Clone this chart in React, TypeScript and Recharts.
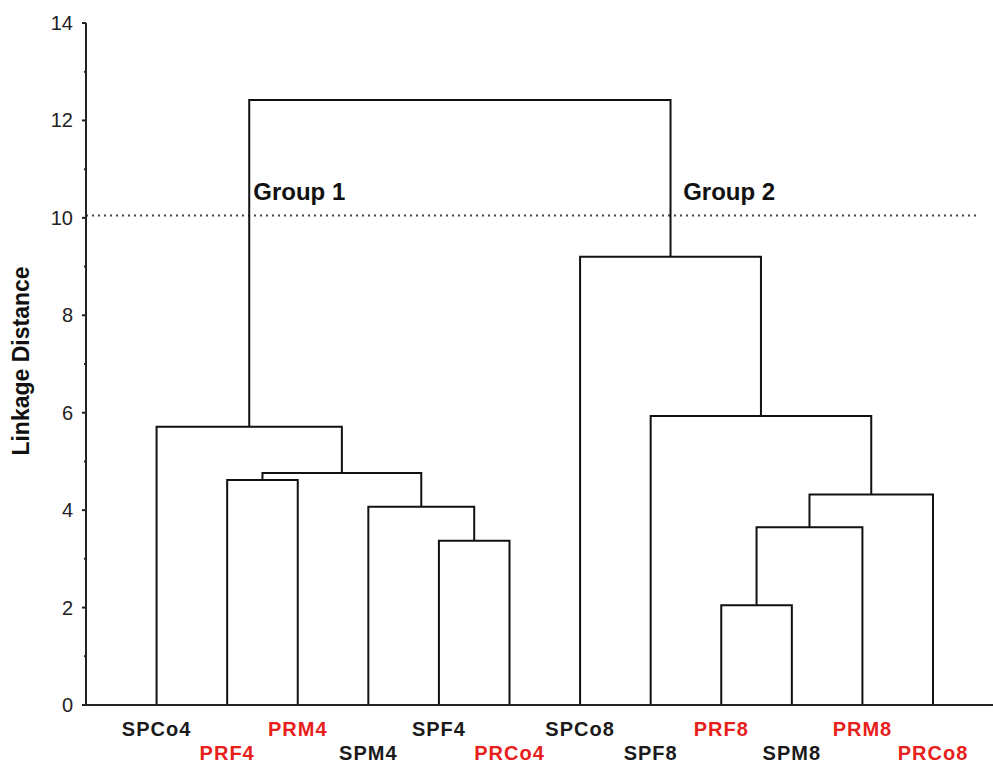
import React from 'react';
import { ComposedChart, Line, XAxis, YAxis, ReferenceLine, ReferenceDot } from 'recharts';

// Leaves of the dendrogram (left to right)
const leafLabels = ['SPCo4', 'PRF4', 'PRM4', 'SPM4', 'SPF4', 'PRCo4', 'SPCo8', 'SPF8', 'PRF8', 'SPM8', 'PRM8', 'PRCo8'];
// Merge steps: node ids 0..11 are leaves, merge k creates node 12+k
const mergeLeft = [1, 4, 3, 12, 0, 8, 17, 18, 7, 6, 16];
const mergeRight = [2, 5, 13, 14, 15, 9, 10, 11, 19, 20, 21];
const mergeHeight = [4.62, 3.37, 4.07, 4.76, 5.71, 2.05, 3.65, 4.32, 5.93, 9.2, 12.42];

const yTicks = [0, 1, 2, 3, 4, 5, 6, 7, 8, 9, 10, 11, 12, 13, 14];
const cutHeight = 10.05;
const groupLabels = ['Group 1', 'Group 2'];
const groupX = [1.37, 7.46];
const groupY = [10.37, 10.37];

const RED = '#e8201c';

// Build link polylines from merges
const nodeX: number[] = leafLabels.map((_, i) => i);
const nodeH: number[] = leafLabels.map(() => 0);
const links: { x: number; y: number }[][] = [];
mergeLeft.forEach((l, k) => {
  const r = mergeRight[k];
  const h = mergeHeight[k];
  links.push([
    { x: nodeX[l], y: nodeH[l] },
    { x: nodeX[l], y: h },
    { x: nodeX[r], y: h },
    { x: nodeX[r], y: nodeH[r] },
  ]);
  nodeX.push((nodeX[l] + nodeX[r]) / 2);
  nodeH.push(h);
});

const YTick = (props: any) => {
  const { x, y, payload } = props;
  const v = payload.value;
  const major = v % 2 === 0;
  return (
    <g>
      <line x1={x - (major ? 4 : 2)} x2={x} y1={y} y2={y} stroke="#222" strokeWidth={2} />
      {major && (
        <text x={x - 13} y={y} textAnchor="end" dominantBaseline="central" fontSize={20} fill="#222" fontFamily="'Liberation Sans', Arial, sans-serif">
          {v}
        </text>
      )}
    </g>
  );
};

const XTick = (props: any) => {
  const { x, y, payload } = props;
  const i = payload.value;
  const label = leafLabels[i];
  if (label === undefined) return null;
  const top = i % 2 === 0;
  return (
    <text
      x={x}
      y={y + (top ? 31 : 55)}
      textAnchor="middle"
      fontSize={20}
      fontWeight="bold"
      letterSpacing={1}
      fill={label.startsWith('PR') ? RED : '#1a1a1a'}
      fontFamily="'Liberation Sans', Arial, sans-serif"
    >
      {label}
    </text>
  );
};

export default function App() {
  return (
    <div style={{ position: 'absolute', left: 0, top: 0, background: '#fff' }}>
      <ComposedChart width={993} height={764} margin={{ top: 23, right: 0, bottom: 0, left: 0 }}>
        <XAxis
          type="number"
          dataKey="x"
          domain={[-1, 11.85]}
          ticks={[0, 1, 2, 3, 4, 5, 6, 7, 8, 9, 10, 11]}
          allowDataOverflow
          height={59}
          tickLine={false}
          tickSize={0}
          tickMargin={0}
          axisLine={{ stroke: '#222', strokeWidth: 2 }}
          tick={<XTick />}
          interval={0}
        />
        <YAxis
          type="number"
          domain={[0, 14]}
          ticks={yTicks}
          width={86}
          interval={0}
          tickLine={false}
          tickSize={0}
          tickMargin={0}
          axisLine={{ stroke: '#222', strokeWidth: 2 }}
          tick={<YTick />}
          label={{
            content: (p: any) => {
              const vb = p.viewBox || { y: 23, height: 682 };
              const cy = vb.y + vb.height / 2 - 3;
              return (
                <text
                  x={29}
                  y={cy}
                  transform={`rotate(-90, 29, ${cy})`}
                  textAnchor="middle"
                  fontSize={23}
                  fontWeight="bold"
                  fill="#111"
                  fontFamily="'Liberation Sans', Arial, sans-serif"
                >
                  Linkage Distance
                </text>
              );
            },
          }}
        />
        <ReferenceLine
          segment={[{ x: -1, y: cutHeight }, { x: 11.63, y: cutHeight }]}
          stroke="#444"
          strokeWidth={2}
          strokeDasharray="2 4"
          ifOverflow="visible"
        />
        {links.map((d, k) => (
          <Line
            key={k}
            data={d}
            dataKey="y"
            type="linear"
            stroke="#111"
            strokeWidth={2}
            dot={false}
            activeDot={false}
            isAnimationActive={false}
          />
        ))}
        {groupLabels.map((g, k) => (
          <ReferenceDot
            key={g}
            x={groupX[k]}
            y={groupY[k]}
            r={0}
            ifOverflow="visible"
            shape={(p: any) => (
              <text
                x={p.cx}
                y={p.cy}
                fontSize={24}
                fontWeight="bold"
                fill="#111"
                fontFamily="'Liberation Sans', Arial, sans-serif"
              >
                {g}
              </text>
            )}
          />
        ))}
      </ComposedChart>
    </div>
  );
}
